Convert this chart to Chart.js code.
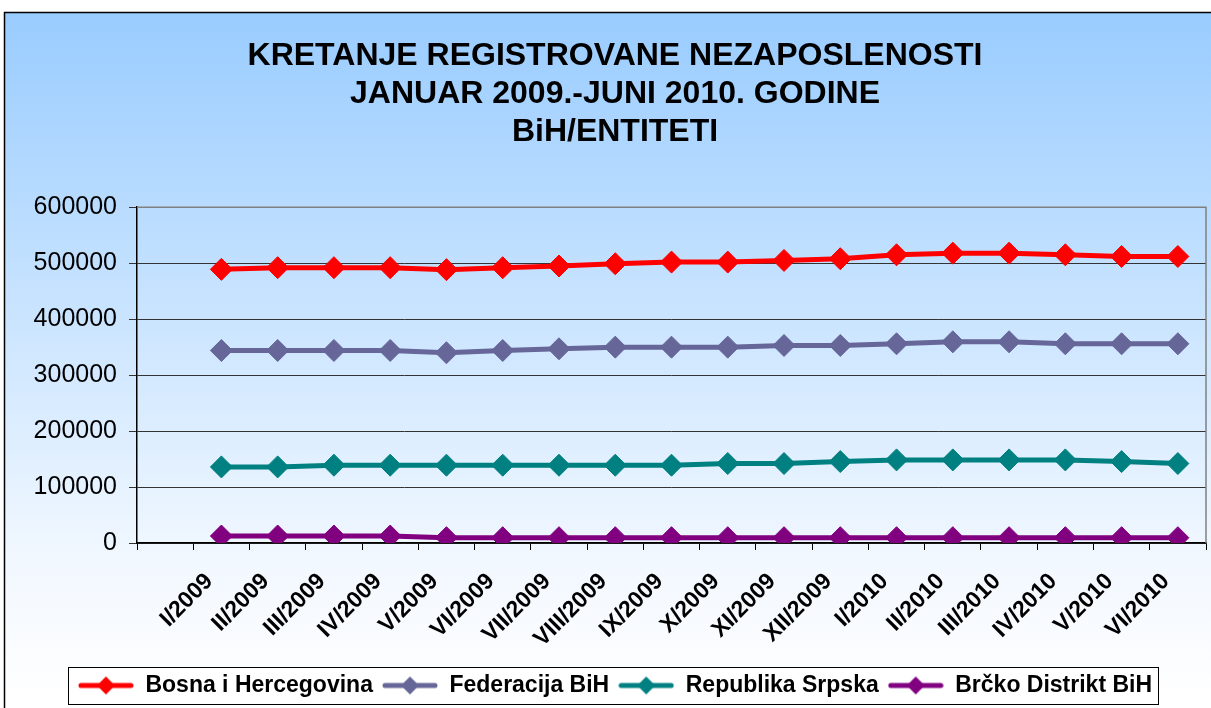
<!DOCTYPE html>
<html lang="bs">
<head>
  <meta charset="UTF-8" />
  <title>Kretanje registrovane nezaposlenosti</title>
  <script src="https://cdn.jsdelivr.net/npm/chart.js"></script>
  <style>
    html, body { margin: 0; padding: 0; overflow: hidden; background: #fff; }
    #wrap { position: absolute; left: 0; top: 0; width: 1240px; height: 720px; }
  </style>
</head>
<body>
  <div id="wrap"><canvas id="chart" width="1240" height="720"></canvas></div>

  <script>
    // mjeseci (prva kategorija je prazna, kao u originalu)
    const months = ['I/2009', 'II/2009', 'III/2009', 'IV/2009', 'V/2009', 'VI/2009', 'VII/2009', 'VIII/2009',
      'IX/2009', 'X/2009', 'XI/2009', 'XII/2009', 'I/2010', 'II/2010', 'III/2010', 'IV/2010', 'V/2010', 'VI/2010'];

    const bih = [489000, 492000, 492000, 492000, 488500, 492000, 495000, 499000, 502000,
      502000, 505000, 508000, 515000, 518000, 518000, 515000, 512000, 512000];
    const fbih = [344000, 344000, 344000, 344000, 340000, 344000, 347000, 350000, 350000,
      350000, 353000, 353000, 356000, 359500, 359500, 356000, 356000, 356000];
    const rs = [136000, 136000, 139000, 139000, 139000, 139000, 139000, 139000, 139000,
      142000, 142000, 145500, 148500, 148500, 148500, 148500, 145500, 142000];
    const brcko = [12500, 12500, 12500, 12500, 9500, 9500, 9500, 9500, 9500,
      9500, 9500, 9500, 9500, 9500, 9500, 9500, 9500, 9500];

    const seriesNames = ['Bosna i Hercegovina', 'Federacija BiH', 'Republika Srpska', 'Brčko Distrikt BiH'];
    const seriesColors = ['#FF0000', '#666699', '#008080', '#800080'];
    const yTicks = [0, 100000, 200000, 300000, 400000, 500000, 600000];

    const FONT = '"Liberation Sans", Arial, sans-serif';

    // mala slicica za legendu: linija sa rombom
    function legendMark(color) {
      const c = document.createElement('canvas');
      c.width = 56; c.height = 22;
      const g = c.getContext('2d');
      g.strokeStyle = color; g.lineWidth = 5; g.lineCap = 'round';
      g.beginPath(); g.moveTo(3, 11); g.lineTo(53, 11); g.stroke();
      g.fillStyle = color;
      g.beginPath();
      g.moveTo(28, 2); g.lineTo(37, 11); g.lineTo(28, 20); g.lineTo(19, 11);
      g.closePath(); g.fill();
      return c;
    }
    const marks = seriesColors.map(legendMark);

    const background = {
      id: 'background',
      beforeDraw(chart) {
        const { ctx, width, height } = chart;
        ctx.save();
        ctx.fillStyle = '#fff';
        ctx.fillRect(0, 0, width, height);
        const grad = ctx.createLinearGradient(0, 12, 0, 700);
        grad.addColorStop(0, '#99CCFF');
        grad.addColorStop(0.8, '#F2F8FF');
        grad.addColorStop(1, '#FFFFFF');
        ctx.fillStyle = grad;
        ctx.fillRect(4, 12, width, height);
        ctx.strokeStyle = '#000';
        ctx.lineWidth = 1.5;
        ctx.beginPath();
        ctx.moveTo(4.5, height); ctx.lineTo(4.5, 12.5); ctx.lineTo(width, 12.5);
        ctx.stroke();

        // okvir legende
        const hb = chart.legend.legendHitBoxes;
        if (hb && hb.length) {
          const left = Math.min(...hb.map(h => h.left)) - 10;
          const right = Math.max(...hb.map(h => h.left + h.width)) + 6;
          const top = Math.min(...hb.map(h => h.top)) - 7;
          const bottom = Math.max(...hb.map(h => h.top + h.height)) + 7;
          ctx.fillStyle = '#fff';
          ctx.fillRect(left, top, right - left, bottom - top);
          ctx.strokeStyle = '#000';
          ctx.lineWidth = 1;
          ctx.strokeRect(Math.round(left) + 0.5, Math.round(top) + 0.5, Math.round(right - left), Math.round(bottom - top));
        }
        ctx.restore();
      },
      beforeDatasetsDraw(chart) {
        const { ctx, chartArea: a } = chart;
        ctx.save();
        ctx.strokeStyle = '#808080';
        ctx.lineWidth = 1.5;
        ctx.beginPath();
        ctx.moveTo(a.left, a.top); ctx.lineTo(a.right, a.top); ctx.lineTo(a.right, a.bottom);
        ctx.stroke();
        ctx.restore();
      }
    };

    const ctx = document.getElementById('chart').getContext('2d');
    new Chart(ctx, {
      type: 'line',
      data: {
        labels: ['', ...months],
        datasets: [bih, fbih, rs, brcko].map((vals, i) => ({
          label: seriesNames[i],
          data: [null, ...vals],
          borderColor: seriesColors[i],
          backgroundColor: seriesColors[i],
          borderWidth: 5,
          pointStyle: 'rectRot',
          pointRadius: 11,
          pointBorderWidth: 1,
          pointHoverRadius: 11,
          tension: 0
        }))
      },
      options: {
        responsive: false,
        animation: false,
        layout: { padding: { left: 24, right: 34, top: 12, bottom: 13 } },
        plugins: {
          tooltip: { enabled: false },
          title: {
            display: true,
            text: ['KRETANJE REGISTROVANE NEZAPOSLENOSTI', 'JANUAR 2009.-JUNI 2010. GODINE', 'BiH/ENTITETI'],
            color: '#000',
            font: { family: FONT, size: 32, weight: 'bold', lineHeight: 1.19 },
            padding: { top: 25, bottom: 56 }
          },
          legend: {
            position: 'bottom',
            labels: {
              usePointStyle: true,
              pointStyleWidth: 56,
              boxHeight: 22,
              padding: 9,
              color: '#000',
              font: { family: FONT, size: 23, weight: 'bold' },
              generateLabels(chart) {
                const items = Chart.defaults.plugins.legend.labels.generateLabels(chart);
                items.forEach((it, i) => { it.pointStyle = marks[i]; });
                return items;
              }
            }
          }
        },
        scales: {
          x: {
            offset: true,
            grid: { offset: true, drawOnChartArea: false, drawTicks: true, tickLength: 7, color: '#000' },
            border: { color: '#000', width: 1.5 },
            ticks: {
              autoSkip: false,
              minRotation: 45,
              maxRotation: 45,
              padding: 18,
              labelOffset: -12,
              color: '#000',
              font: { family: FONT, size: 23, weight: 'bold' }
            },
            afterFit(s) { s.height = 122; }
          },
          y: {
            min: 0,
            max: 600000,
            afterBuildTicks(s) { s.ticks = yTicks.map(v => ({ value: v })); },
            grid: { color: '#333', lineWidth: 1, tickLength: 8 },
            border: { color: '#000', width: 1.5 },
            ticks: {
              padding: 12,
              color: '#000',
              font: { family: FONT, size: 25 },
              callback: v => String(v)
            },
            afterFit(s) { s.width = 113; }
          }
        }
      },
      plugins: [background]
    });
  </script>
</body>
</html>
